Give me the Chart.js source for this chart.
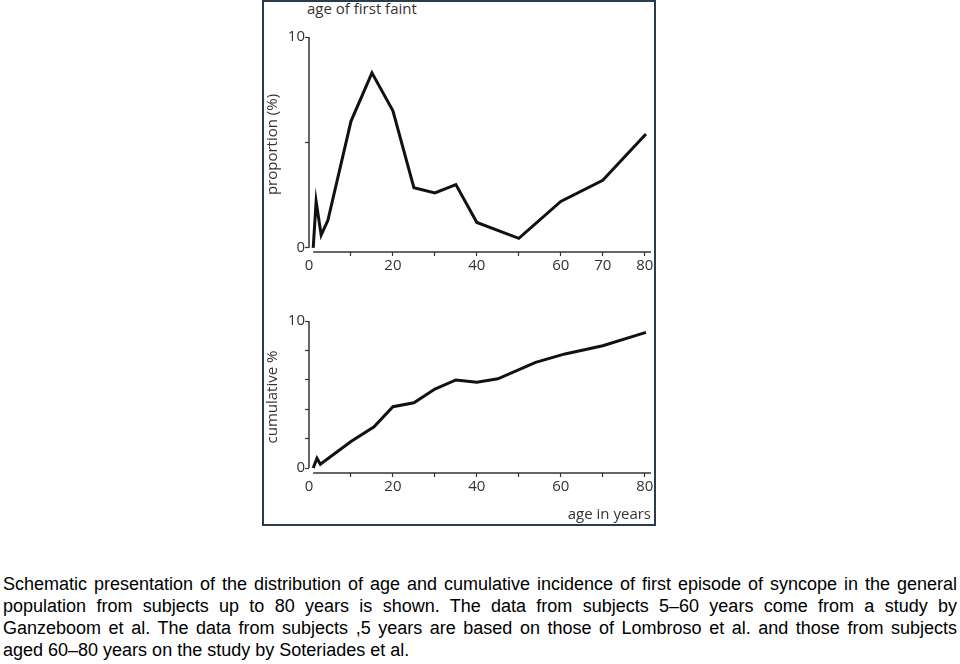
<!DOCTYPE html>
<html>
<head>
<meta charset="utf-8">
<script src="https://cdn.jsdelivr.net/npm/chart.js@4.4.1/dist/chart.umd.min.js"></script>
<style>
  body { margin: 0; background: #fff; width: 960px; height: 664px; position: relative; overflow: hidden; }
  #frame { position: absolute; left: 262px; top: 0; width: 394px; height: 526px; border: 2px solid #2b3b4e; box-sizing: border-box; }
  canvas { position: absolute; left: 263px; }
  #topChart { top: 0; }
  #bottomChart { top: 280px; }
  #faintTitle { position: absolute; left: 307px; top: -2px; font: 15px "Open Sans", sans-serif; color: #333; }
  #caption { position: absolute; left: 3px; top: 573px; width: 954px; font: 18px "Liberation Sans", Arial, sans-serif; line-height: 22px; color: #000; }
  #caption div { white-space: nowrap; text-align: justify; text-align-last: justify; }
  #caption div.last { text-align-last: left; }
</style>
</head>
<body>
<div id="frame"></div>
<div id="faintTitle">age of first faint</div>
<canvas id="topChart" width="392" height="285"></canvas>
<canvas id="bottomChart" width="392" height="245"></canvas>
<div id="caption">
  <div>Schematic presentation of the distribution of age and cumulative incidence of first episode of syncope in the general</div>
  <div>population from subjects up to 80 years is shown. The data from subjects 5–60 years come from a study by</div>
  <div>Ganzeboom et al. The data from subjects ,5 years are based on those of Lombroso et al. and those from subjects</div>
  <div class="last">aged 60–80 years on the study by Soteriades et al.</div>
</div>
<script>
// proportion of first faint by age
const faintAge = [1, 1.7, 2.9, 4.5, 10, 15, 20, 25, 30, 35, 40, 50, 60, 70, 80.3];
const faintPct = [0, 2.2, 0.6, 1.3, 6.0, 8.3, 6.5, 2.85, 2.6, 3.0, 1.2, 0.45, 2.2, 3.2, 5.4];

// cumulative incidence by age
const cumAge = [1, 1.9, 2.7, 10, 15.5, 20, 25, 30, 35, 40, 45, 54, 61, 70, 80.3];
const cumPct = [0, 0.66, 0.25, 1.8, 2.8, 4.17, 4.44, 5.37, 5.99, 5.83, 6.07, 7.19, 7.76, 8.32, 9.23];

const xTicks = [0, 10, 20, 30, 40, 50, 60, 70, 80];
const topXLabels = [0, 20, 40, 60, 70, 80];
const bottomXLabels = [0, 20, 40, 60, 80];
const topYTicks = [0, 5, 10];
const bottomYTicks = [0, 2, 4, 6, 8, 10];
const yLabels = [0, 10];

const ink = '#333';
const tickFont = { family: '"Open Sans", sans-serif', size: 15 };
const titleFont = { family: '"Open Sans", sans-serif', size: 15 };

// axis lines: y from 0 to 10, x starting just right of the origin
const axisLines = {
  id: 'axisLines',
  beforeDatasetsDraw(chart) {
    const { ctx, chartArea, scales: { x, y } } = chart;
    ctx.save();
    ctx.strokeStyle = ink;
    ctx.lineWidth = 1.5;
    ctx.beginPath();
    ctx.moveTo(chartArea.left, y.getPixelForValue(0));
    ctx.lineTo(chartArea.left, y.getPixelForValue(10));
    ctx.stroke();
    ctx.beginPath();
    ctx.moveTo(x.getPixelForValue(1), chartArea.bottom);
    ctx.lineTo(chartArea.right, chartArea.bottom);
    ctx.stroke();
    ctx.restore();
  }
};

const makeChart = (id, ages, values, opts) => {
  const ctx = document.getElementById(id).getContext('2d');
  return new Chart(ctx, {
    type: 'line',
    data: {
      datasets: [{
        data: ages.map((a, i) => ({ x: a, y: values[i] })),
        borderColor: '#111',
        borderWidth: 3,
        pointRadius: 0,
        tension: 0,
        fill: false
      }]
    },
    options: {
      responsive: false,
      animation: false,
      layout: { padding: { top: opts.padTop, right: 4, left: 0, bottom: 0 } },
      plugins: { legend: { display: false }, tooltip: { enabled: false } },
      scales: {
        x: {
          type: 'linear',
          min: 0,
          max: 81.5,
          afterFit: s => { s.height = opts.xHeight; },
          afterBuildTicks: s => { s.ticks = xTicks.map(v => ({ value: v })); },
          border: { display: false },
          grid: {
            drawOnChartArea: false,
            drawTicks: true,
            tickLength: 4,
            tickWidth: 1.2,
            tickColor: c => (c.tick && c.tick.value === 0) ? 'rgba(0,0,0,0)' : ink
          },
          ticks: {
            autoSkip: false,
            maxRotation: 0,
            padding: 1,
            color: ink,
            font: tickFont,
            callback: v => opts.xLabels.includes(v) ? String(v) : ''
          },
          title: opts.xTitle ? {
            display: true,
            text: opts.xTitle,
            align: 'end',
            color: ink,
            font: titleFont,
            padding: { top: 0, bottom: 1 }
          } : { display: false }
        },
        y: {
          min: opts.yMin,
          max: 10,
          afterFit: s => { s.width = 46; },
          afterBuildTicks: s => { s.ticks = opts.yTicks.map(v => ({ value: v })); },
          border: { display: false },
          grid: { drawOnChartArea: false, drawTicks: true, tickLength: 4, tickWidth: 1.2, tickColor: ink },
          ticks: {
            padding: 0,
            color: ink,
            font: tickFont,
            callback: v => yLabels.includes(v) ? String(v) : ''
          },
          title: {
            display: true,
            text: opts.yTitle,
            color: ink,
            font: titleFont,
            padding: { top: 1, bottom: 0 }
          }
        }
      }
    },
    plugins: [axisLines]
  });
};

makeChart('topChart', faintAge, faintPct, {
  padTop: 37, xHeight: 33, yMin: -0.2, yTicks: topYTicks,
  xLabels: topXLabels, yTitle: 'proportion (%)'
});

makeChart('bottomChart', cumAge, cumPct, {
  padTop: 41, xHeight: 52, yMin: -0.34, yTicks: bottomYTicks,
  xLabels: bottomXLabels, yTitle: 'cumulative %', xTitle: 'age in years'
});
</script>
</body>
</html>
